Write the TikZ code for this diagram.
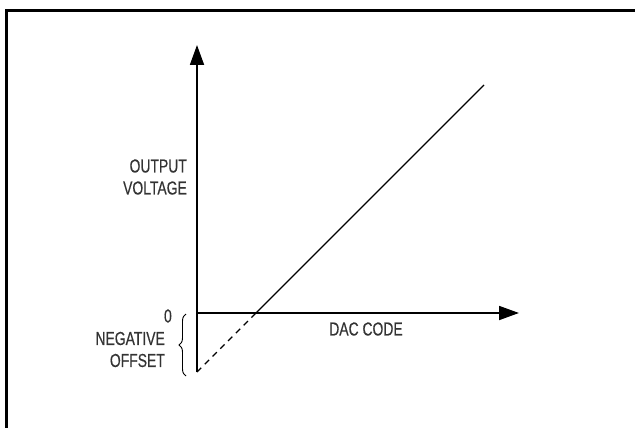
\documentclass[tikz,border=0pt]{standalone}
\usepackage{fontspec}
\setmainfont[FakeStretch=0.74,FakeBold=0.4]{Liberation Sans}
\usetikzlibrary{arrows.meta,decorations.pathreplacing}
\tikzset{
  lbl/.style={inner sep=0pt, text=black!80, font=\fontsize{18.8}{22}\selectfont, align=right},
  axis/.style={line width=1.8pt, -{Triangle[length=20pt,width=14pt]}},
  plot/.style={line width=1.4pt},
  frame/.style={line width=3pt},
}
\begin{document}
\begin{tikzpicture}[x=1pt,y=-1pt]
\useasboundingbox (0,0) rectangle (635,428);
\coordinate (fbl) at (6.5,428);
\coordinate (ftl) at (6.5,11);
\coordinate (ftr) at (635,11);
\draw[frame] (fbl) -- (ftl) -- (ftr);
\coordinate (O) at (197,313);
\coordinate (ybot) at (197,372);
\coordinate (ytop) at (197,45);
\coordinate (xend) at (519,313);
\coordinate (cross) at (256,313);
\coordinate (lend) at (484,85);
\draw[axis] (ybot) -- (ytop);
\draw[axis] (O) -- (xend);
\draw[plot] (cross) -- (lend);
\draw[plot, dash pattern=on 6pt off 5pt] (ybot) -- (cross);
\coordinate (b1) at (186,376);
\coordinate (b2) at (186,314);
\draw[line width=0.9pt, decorate, decoration={brace, amplitude=7pt}] (b1) -- (b2);
\node[lbl, anchor=east] (zero) at (172,316) {0};
\node[lbl, anchor=east] (neg) at (165,349.5) {NEGATIVE\\OFFSET};
\node[lbl, anchor=east] (out) at (187,177) {OUTPUT\\VOLTAGE};
\node[lbl] (dac) at (366,329) {DAC CODE};
\end{tikzpicture}
\end{document}
